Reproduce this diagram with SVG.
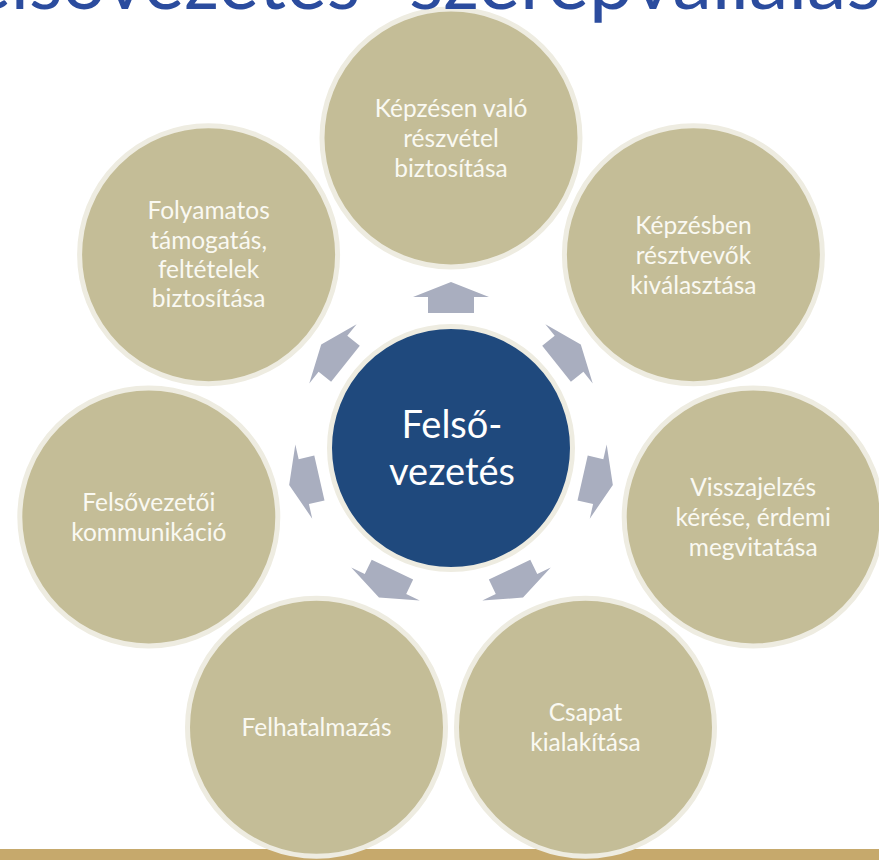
<svg xmlns="http://www.w3.org/2000/svg" width="879" height="860" viewBox="0 0 879 860">
<style>
.outer{fill:#C4BD97;stroke:#EEECE1;stroke-width:5}
.core{fill:#1F497D;stroke:#EEECE1;stroke-width:5}
.lbl{font-family:Lato,"Liberation Sans",sans-serif;font-size:24.5px;fill:#FAF9F2;text-anchor:middle}
.clbl{font-family:Lato,"Liberation Sans",sans-serif;font-size:38px;fill:#FFFFFF;text-anchor:middle}
.arrow{fill:#A9AEBF}
.title{font-family:Lato,"Liberation Sans",sans-serif;font-size:78px;fill:#2B4C9E}
</style>
<defs>
<polygon id="arr" points="451,282 489,297 474,297 474,313 428,313 428,297 413,297"/>
</defs>
<rect x="0" y="849" width="879" height="11" fill="#C6A96C"/>
<g id="connectors" class="arrow">
<use href="#arr" transform="rotate(0 451 448)"/>
<use href="#arr" transform="rotate(51.4286 451 448)"/>
<use href="#arr" transform="rotate(102.8571 451 448)"/>
<use href="#arr" transform="rotate(154.2857 451 448)"/>
<use href="#arr" transform="rotate(205.7143 451 448)"/>
<use href="#arr" transform="rotate(257.1429 451 448)"/>
<use href="#arr" transform="rotate(308.5714 451 448)"/>
</g>
<g id="center">
<circle class="core" cx="451" cy="448" r="121.5"/>
<text class="clbl" x="452" y="438">Felső-</text>
<text class="clbl" x="452" y="485">vezetés</text>
</g>
<g id="n0">
<circle class="outer" cx="451" cy="138" r="129"/>
<text class="lbl"><tspan x="451" y="117">Képzésen való</tspan><tspan x="451" y="147">részvétel</tspan><tspan x="451" y="177">biztosítása</tspan></text>
</g>
<g id="n1">
<circle class="outer" cx="693.4" cy="254.7" r="129"/>
<text class="lbl"><tspan x="693.4" y="234">Képzésben</tspan><tspan x="693.4" y="264">résztvevők</tspan><tspan x="693.4" y="294">kiválasztása</tspan></text>
</g>
<g id="n2">
<circle class="outer" cx="753.2" cy="517" r="129"/>
<text class="lbl"><tspan x="753.2" y="496">Visszajelzés</tspan><tspan x="753.2" y="526">kérése, érdemi</tspan><tspan x="753.2" y="556">megvitatása</tspan></text>
</g>
<g id="n3">
<circle class="outer" cx="585.5" cy="727.3" r="129"/>
<text class="lbl"><tspan x="585.5" y="721">Csapat</tspan><tspan x="585.5" y="751">kialakítása</tspan></text>
</g>
<g id="n4">
<circle class="outer" cx="316.5" cy="727.3" r="129"/>
<text class="lbl" x="316.5" y="736">Felhatalmazás</text>
</g>
<g id="n5">
<circle class="outer" cx="148.8" cy="517" r="129"/>
<text class="lbl"><tspan x="148.8" y="511">Felsővezetői</tspan><tspan x="148.8" y="541">kommunikáció</tspan></text>
</g>
<g id="n6">
<circle class="outer" cx="208.6" cy="254.7" r="129"/>
<text class="lbl"><tspan x="208.6" y="219">Folyamatos</tspan><tspan x="208.6" y="249">támogatás,</tspan><tspan x="208.6" y="278">feltételek</tspan><tspan x="208.6" y="307">biztosítása</tspan></text>
</g>
<text class="title" y="9"><tspan x="-70" textLength="430" lengthAdjust="spacingAndGlyphs">Felsővezetés</tspan><tspan x="409" textLength="511" lengthAdjust="spacingAndGlyphs">szerepvállalása</tspan></text>
</svg>
